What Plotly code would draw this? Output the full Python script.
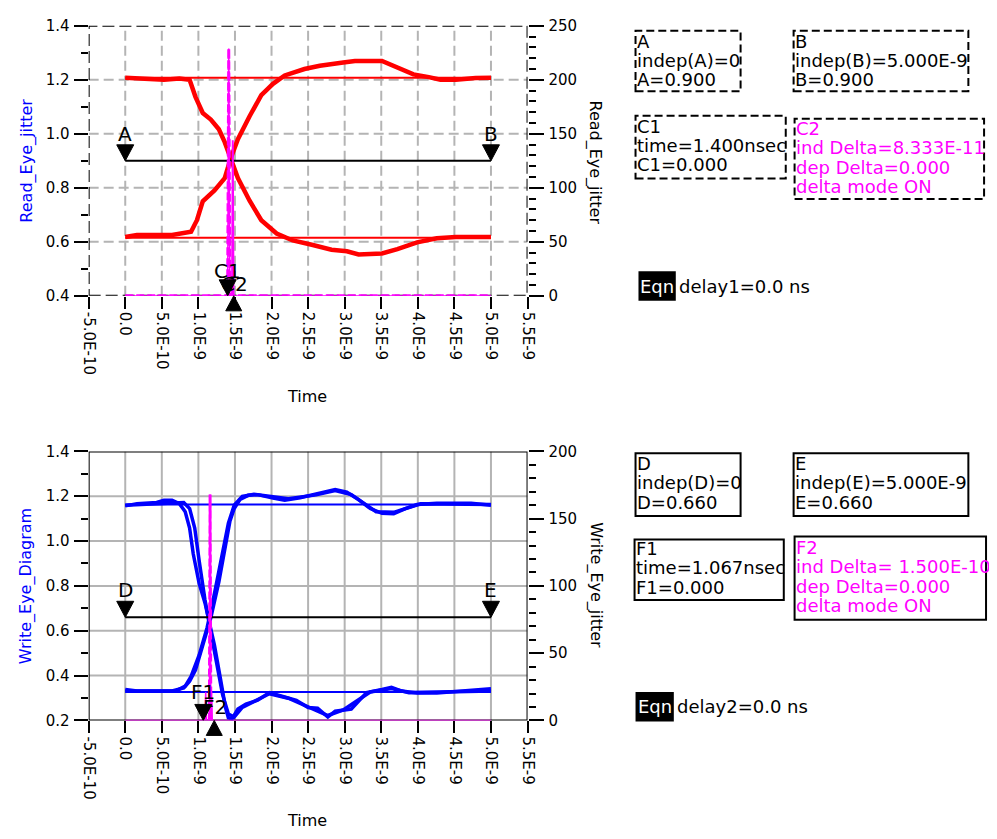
import plotly.graph_objects as go

# ---------------- data (times in ns) ----------------
x_tick_vals_ns = [-0.5, 0.0, 0.5, 1.0, 1.5, 2.0, 2.5, 3.0, 3.5, 4.0, 4.5, 5.0, 5.5]
x_tick_text = ["-5.0E-10", "0.0", "5.0E-10", "1.0E-9", "1.5E-9", "2.0E-9", "2.5E-9",
               "3.0E-9", "3.5E-9", "4.0E-9", "4.5E-9", "5.0E-9", "5.5E-9"]
top_y_ticks = [0.4, 0.6, 0.8, 1.0, 1.2, 1.4]
bot_y_ticks = [0.2, 0.4, 0.6, 0.8, 1.0, 1.2, 1.4]
top_y_range = [0.4, 1.4]
bot_y_range = [0.2, 1.4]
top_jit_range = [0, 250]
bot_jit_range = [0, 200]
x_range_ns = [-0.5, 5.5]

# Read eye (top)
read_flat_t = [0.0, 5.0]
read_high = [1.208, 1.208]
read_low = [0.615, 0.615]
read_rise_t = [0.0, 0.16, 0.64, 0.90, 0.98, 1.06, 1.22, 1.36, 1.44, 1.54, 1.70, 1.86, 2.02, 2.18,
               2.45, 2.66, 2.98, 3.14, 3.51, 3.67, 3.94, 4.15, 4.31, 4.52, 4.79, 5.0]
read_rise_v = [0.618, 0.625, 0.625, 0.637, 0.68, 0.75, 0.79, 0.836, 0.908, 0.98, 1.065, 1.143, 1.185, 1.216,
               1.24, 1.252, 1.264, 1.27, 1.27, 1.252, 1.22, 1.21, 1.20, 1.20, 1.207, 1.208]
read_fall_t = [0.0, 0.37, 0.53, 0.74, 0.88, 0.96, 1.06, 1.17, 1.28, 1.36, 1.44, 1.54, 1.70, 1.86,
               2.07, 2.29, 2.55, 2.82, 3.03, 3.19, 3.51, 3.72, 3.99, 4.26, 4.52, 5.0]
read_fall_v = [1.208, 1.203, 1.20, 1.205, 1.20, 1.137, 1.077, 1.053, 1.017, 0.969, 0.908, 0.836, 0.752, 0.68,
               0.631, 0.605, 0.589, 0.571, 0.565, 0.553, 0.557, 0.573, 0.598, 0.613, 0.618, 0.618]
read_jit_t = [0.0, 1.40, 1.415, 1.43, 5.0]
read_jit_n = [0, 0, 229, 0, 0]
read_jit2_t = [1.46, 1.47, 1.48]
read_jit2_n = [0, 144, 0]

# Write eye (bottom)
write_flat_t = [0.0, 5.0]
write_high = [1.163, 1.163]
write_low = [0.327, 0.327]
write_fall1_t = [0.0, 0.16, 0.43, 0.53, 0.64, 0.74, 0.82, 0.88, 0.93, 1.01, 1.09, 1.14, 1.22, 1.30, 1.37,
                 1.41, 1.46, 1.54, 1.65, 1.81, 1.97, 2.13, 2.34, 2.50, 2.63, 2.77, 2.87, 3.09, 3.19,
                 3.30, 3.51, 3.64, 3.78, 3.99, 4.26, 4.57, 5.0]
write_fall1_v = [1.157, 1.167, 1.172, 1.182, 1.182, 1.167, 1.131, 1.058, 0.942, 0.811, 0.724, 0.654, 0.535,
                 0.389, 0.258, 0.212, 0.207, 0.251, 0.273, 0.290, 0.324, 0.309, 0.290, 0.258, 0.255,
                 0.215, 0.241, 0.251, 0.287, 0.324, 0.338, 0.348, 0.331, 0.322, 0.322, 0.331, 0.341]
write_fall2_t = [0.0, 0.64, 0.80, 0.88, 0.95, 1.01, 1.09, 1.17, 1.25, 1.33, 1.41, 1.49, 1.60, 1.81,
                 1.97, 2.23, 2.50, 2.77, 2.98, 3.19, 3.35, 3.64, 3.88, 5.0]
write_fall2_v = [1.16, 1.172, 1.172, 1.145, 1.058, 0.913, 0.738, 0.593, 0.447, 0.316, 0.229, 0.215, 0.258,
                 0.295, 0.319, 0.299, 0.261, 0.222, 0.247, 0.295, 0.327, 0.342, 0.324, 0.331]
write_rise1_t = [0.0, 0.16, 0.64, 0.80, 0.88, 0.96, 1.06, 1.17, 1.28, 1.36, 1.43, 1.49, 1.57, 1.68, 1.81,
                 2.02, 2.18, 2.39, 2.61, 2.87, 3.03, 3.19, 3.35, 3.51, 3.67, 3.83, 3.99, 4.26, 4.73, 5.0]
write_rise1_v = [0.338, 0.331, 0.331, 0.345, 0.375, 0.425, 0.535, 0.658, 0.818, 0.956, 1.087, 1.145, 1.186,
                 1.204, 1.207, 1.192, 1.182, 1.193, 1.209, 1.230, 1.218, 1.185, 1.145, 1.124, 1.122,
                 1.145, 1.163, 1.169, 1.169, 1.16]
write_rise2_t = [0.0, 0.69, 0.82, 0.90, 1.01, 1.12, 1.22, 1.33, 1.41, 1.49, 1.60, 1.76, 2.02, 2.23, 2.61,
                 2.87, 3.09, 3.24, 3.43, 3.67, 3.88, 4.04, 5.0]
write_rise2_v = [0.331, 0.331, 0.353, 0.396, 0.491, 0.615, 0.767, 0.942, 1.08, 1.16, 1.199, 1.209, 1.196,
                 1.189, 1.206, 1.225, 1.207, 1.172, 1.131, 1.128, 1.151, 1.166, 1.163]
write_jit_t = [0.0, 1.09, 1.10, 1.11, 1.15, 1.16, 1.17, 1.18, 1.19, 5.0]
write_jit_n = [0, 0, 21, 0, 0, 168, 0, 21, 0, 0]
write_jit_main_t = [1.15, 1.16, 1.17]
write_jit_main_n = [0, 168, 0]

# markers
read_line_names = ["A", "B"]
read_line_t = [0.0, 5.0]
read_line_v = [0.9, 0.9]
write_line_names = ["D", "E"]
write_line_t = [0.0, 5.0]
write_line_v = [0.66, 0.66]
read_c1_t, read_c2_t = 1.4, 1.4 + 0.08333
write_f1_t, write_f2_t = 1.067, 1.067 + 0.15

box_A = ["A", "indep(A)=0", "A=0.900"]
box_B = ["B", "indep(B)=5.000E-9", "B=0.900"]
box_C1 = ["C1", "time=1.400nsec", "C1=0.000"]
box_C2 = ["C2", "ind Delta=8.333E-11", "dep Delta=0.000", "delta mode ON"]
box_D = ["D", "indep(D)=0", "D=0.660"]
box_E = ["E", "indep(E)=5.000E-9", "E=0.660"]
box_F1 = ["F1", "time=1.067nsec", "F1=0.000"]
box_F2 = ["F2", "ind Delta= 1.500E-10", "dep Delta=0.000", "delta mode ON"]
eqn_1 = "delay1=0.0 ns"
eqn_2 = "delay2=0.0 ns"

NS = 1e-9
def s(arr):
    return [v * NS for v in arr]

# ---------------- figure ----------------
OFF = 8  # default page body margin
W, H = 997 - OFF, 839 - OFF
def fx(p):
    return (p - OFF) / W
def fy(p):
    return 1 - (p - OFF) / H

FONT = "DejaVu Sans"
RED = "#ff0000"
BLUE = "#0000ff"
MAG = "#ff00ff"
GRID = "#b4b4b4"

fig = go.Figure()

# top traces
for t, v, w in [(read_flat_t, read_high, 2), (read_flat_t, read_low, 2),
                (read_rise_t, read_rise_v, 4.5), (read_fall_t, read_fall_v, 4.5)]:
    fig.add_trace(go.Scatter(x=s(t), y=v, mode="lines", line=dict(color=RED, width=w),
                             xaxis="x", yaxis="y", showlegend=False))
fig.add_trace(go.Scatter(x=s(read_line_t), y=read_line_v, mode="lines", line=dict(color="black", width=2),
                         xaxis="x", yaxis="y", showlegend=False))
fig.add_trace(go.Scatter(x=s(read_jit_t), y=read_jit_n, mode="lines", line=dict(color=MAG, width=1.5),
                         xaxis="x", yaxis="y2", showlegend=False))
fig.add_trace(go.Scatter(x=s(read_jit_t), y=read_jit_n, mode="lines", line=dict(color=MAG, width=3, dash="8px,3px"),
                         xaxis="x", yaxis="y2", showlegend=False))
fig.add_trace(go.Scatter(x=s(read_jit2_t), y=read_jit2_n, mode="lines", line=dict(color=MAG, width=2),
                         xaxis="x", yaxis="y2", showlegend=False))

# bottom traces
for t, v, w in [(write_flat_t, write_high, 2), (write_flat_t, write_low, 2),
                (write_fall1_t, write_fall1_v, 3.5), (write_fall2_t, write_fall2_v, 3.5),
                (write_rise1_t, write_rise1_v, 3.5), (write_rise2_t, write_rise2_v, 3.5)]:
    fig.add_trace(go.Scatter(x=s(t), y=v, mode="lines", line=dict(color=BLUE, width=w),
                             xaxis="x2", yaxis="y3", showlegend=False))
fig.add_trace(go.Scatter(x=s(write_line_t), y=write_line_v, mode="lines", line=dict(color="black", width=2),
                         xaxis="x2", yaxis="y3", showlegend=False))
fig.add_trace(go.Scatter(x=s(write_jit_t), y=write_jit_n, mode="lines", line=dict(color=MAG, width=1.5),
                         xaxis="x2", yaxis="y4", showlegend=False))
fig.add_trace(go.Scatter(x=s(write_jit_main_t), y=write_jit_main_n, mode="lines",
                         line=dict(color=MAG, width=3, dash="8px,3px"),
                         xaxis="x2", yaxis="y4", showlegend=False))

XD = [fx(81), fx(528)]
TOP_D = [fy(293), fy(17)]
BOT_D = [fy(727), fy(452)]
tickfont = dict(family=FONT, size=15, color="black")

def xaxis_cfg(anchor):
    return dict(domain=XD, anchor=anchor, range=s(x_range_ns),
                tickmode="array", tickvals=s(x_tick_vals_ns), ticktext=x_tick_text,
                tickangle=90, ticks="outside", ticklen=12, tickwidth=2, tickcolor="black",
                ticklabelstandoff=0, tickfont=tickfont,
                showgrid=False, zeroline=False, showline=False)

def yleft_cfg(domain, anchor, rng, ticks):
    return dict(domain=domain, anchor=anchor, range=rng,
                tickmode="array", tickvals=ticks, ticktext=["%.1f" % v for v in ticks],
                ticks="outside", ticklen=14, tickwidth=2, tickcolor="black",
                ticklabelstandoff=1, tickfont=tickfont,
                minor=dict(tickmode="linear", dtick=0.1, tick0=0.2, ticks="outside", ticklen=7, tickwidth=2,
                           tickcolor="black", showgrid=False),
                showgrid=False, zeroline=False, showline=False)

def yright_cfg(over, anchor, rng):
    return dict(overlaying=over, anchor=anchor, side="right", range=rng,
                tick0=0, dtick=50, ticks="outside", ticklen=15, tickwidth=2, tickcolor="black",
                ticklabelstandoff=2, tickfont=tickfont,
                minor=dict(dtick=10, ticks="outside", ticklen=7, tickwidth=2, tickcolor="black",
                           showgrid=False),
                showgrid=False, zeroline=False, showline=False)

fig.update_layout(
    width=W, height=H, margin=dict(l=0, r=0, t=0, b=0),
    paper_bgcolor="white", plot_bgcolor="rgba(0,0,0,0)", showlegend=False,
    font=dict(family=FONT, color="black"),
    xaxis=xaxis_cfg("y"),
    yaxis=yleft_cfg(TOP_D, "x", top_y_range, top_y_ticks),
    yaxis2=yright_cfg("y", "x", top_jit_range),
    xaxis2=xaxis_cfg("y3"),
    yaxis3=yleft_cfg(BOT_D, "x2", bot_y_range, bot_y_ticks),
    yaxis4=yright_cfg("y3", "x2", bot_jit_range),
)

shapes = []
# grid lines (interior ticks only) and plot borders, drawn below the traces
def grid_and_border(xref, yref, yr, yticks, dash, bdash):
    xr = s(x_range_ns)
    for xv in s(x_tick_vals_ns)[1:-1]:
        shapes.append(dict(type="line", xref=xref, yref=yref, x0=xv, x1=xv, y0=yr[0], y1=yr[1],
                           line=dict(color=GRID, width=2, dash=dash), layer="below"))
    for yv in yticks:
        if yr[0] < yv < yr[1]:
            shapes.append(dict(type="line", xref=xref, yref=yref, x0=xr[0], x1=xr[1], y0=yv, y1=yv,
                               line=dict(color=GRID, width=2, dash=dash), layer="below"))
    shapes.append(dict(type="rect", xref=xref, yref=yref, x0=xr[0], x1=xr[1], y0=yr[0], y1=yr[1],
                       line=dict(color="black", width=2, dash=bdash), layer="below"))

grid_and_border("x", "y", top_y_range, top_y_ticks, "10px,5px", "12px,5px")
grid_and_border("x2", "y3", bot_y_range, bot_y_ticks, "solid", "solid")

DOWN = "M-8.5,16 L8.5,16 L0,0 Z"
UP = "M-8,-15 L8,-15 L0,0 Z"
def tri(xref, yref, xv, yv, path):
    return dict(type="path", xref=xref, yref=yref, xsizemode="pixel", ysizemode="pixel",
                xanchor=xv, yanchor=yv, path=path, fillcolor="black",
                line=dict(color="black", width=1))

annotations = []
def label(xref, yref, xv, yv, text, yshift, xshift=0, size=20):
    annotations.append(dict(xref=xref, yref=yref, x=xv, y=yv, text=text, showarrow=False,
                            yshift=yshift, xshift=xshift, xanchor="center", yanchor="middle",
                            font=dict(family=FONT, size=size, color="black")))

for n, t, v in zip(read_line_names, read_line_t, read_line_v):
    shapes.append(tri("x", "y", t * NS, v, DOWN))
    label("x", "y", t * NS, v, n, 27)
for n, t, v in zip(write_line_names, write_line_t, write_line_v):
    shapes.append(tri("x2", "y3", t * NS, v, DOWN))
    label("x2", "y3", t * NS, v, n, 27)

# cursor markers on the jitter axes (up-triangles hang below the axis, so anchor them to the paper edge)
shapes.append(tri("x", "y2", read_c1_t * NS, 0, DOWN))
label("x", "y2", read_c1_t * NS, 0, "C1", 25)
shapes.append(tri("x", "paper", read_c2_t * NS, TOP_D[0], UP))
label("x", "y2", read_c2_t * NS, 0, "C2", 12, 1)
shapes.append(tri("x2", "y4", write_f1_t * NS, 0, DOWN))
label("x2", "y4", write_f1_t * NS, 0, "F1", 28)
shapes.append(tri("x2", "paper", write_f2_t * NS, BOT_D[0], UP))
label("x2", "y4", write_f2_t * NS, 0, "F2", 13, 1)

# axis titles
def ptext(x, y, text, color="black", size=16, angle=0, xanchor="center"):
    annotations.append(dict(xref="paper", yref="paper", x=fx(x), y=fy(y), text=text, showarrow=False,
                            textangle=angle, xanchor=xanchor, yanchor="middle",
                            font=dict(family=FONT, size=size, color=color)))

ptext(18, 155, "Read_Eye_jitter", BLUE, 16, -90)
ptext(597, 157, "Read_Eye_jitter", "black", 16, 90)
ptext(303, 396, "Time")
ptext(18, 590, "Write_Eye_Diagram", BLUE, 16, -90)
ptext(597, 589, "Write_Eye_jitter", "black", 16, 90)
ptext(303, 829, "Time")

# readout boxes
def box(x0, y0, x1, y1, lines, tx, ty0, dy, dashed, colors=None):
    shapes.append(dict(type="rect", xref="paper", yref="paper", x0=fx(x0), x1=fx(x1), y0=fy(y1), y1=fy(y0),
                       line=dict(color="black", width=2, dash="8px,4px" if dashed else "solid")))
    for i, ln in enumerate(lines):
        c = colors[i] if colors else "black"
        ptext(tx, ty0 + i * dy, ln, c, 18, 0, "left")

box(638, 22, 745, 84, box_A, 637, 33, 19.5, True)
box(799, 22, 977, 84, box_B, 798, 33, 19.5, True)
box(638, 109, 791, 173, box_C1, 637, 120, 19.5, True)
box(800, 112, 993, 194, box_C2, 799, 122, 19.8, True, [MAG] * 4)
box(638, 454, 745, 518, box_D, 637, 464, 20, False)
box(799, 454, 977, 518, box_E, 798, 464, 20, False)
box(637, 542, 789, 604, box_F1, 636, 551, 20, False)
box(800, 539, 995, 624, box_F2, 799, 550, 19.8, False, [MAG] * 4)

# Eqn blocks
for (x0, y0, x1, y1, txt) in [(641, 268, 679, 298, eqn_1), (638, 698, 677, 728, eqn_2)]:
    shapes.append(dict(type="rect", xref="paper", yref="paper", x0=fx(x0), x1=fx(x1), y0=fy(y1), y1=fy(y0),
                       fillcolor="black", line=dict(color="black", width=0)))
    annotations.append(dict(xref="paper", yref="paper", x=fx((x0 + x1) / 2), y=fy((y0 + y1) / 2), text="Eqn",
                            showarrow=False, xanchor="center", yanchor="middle",
                            font=dict(family=FONT, size=18, color="white")))
    ptext(x1 + 1, (y0 + y1) / 2, txt, "black", 18, 0, "left")

fig.update_layout(shapes=shapes, annotations=annotations)
fig.write_html("out.html")
